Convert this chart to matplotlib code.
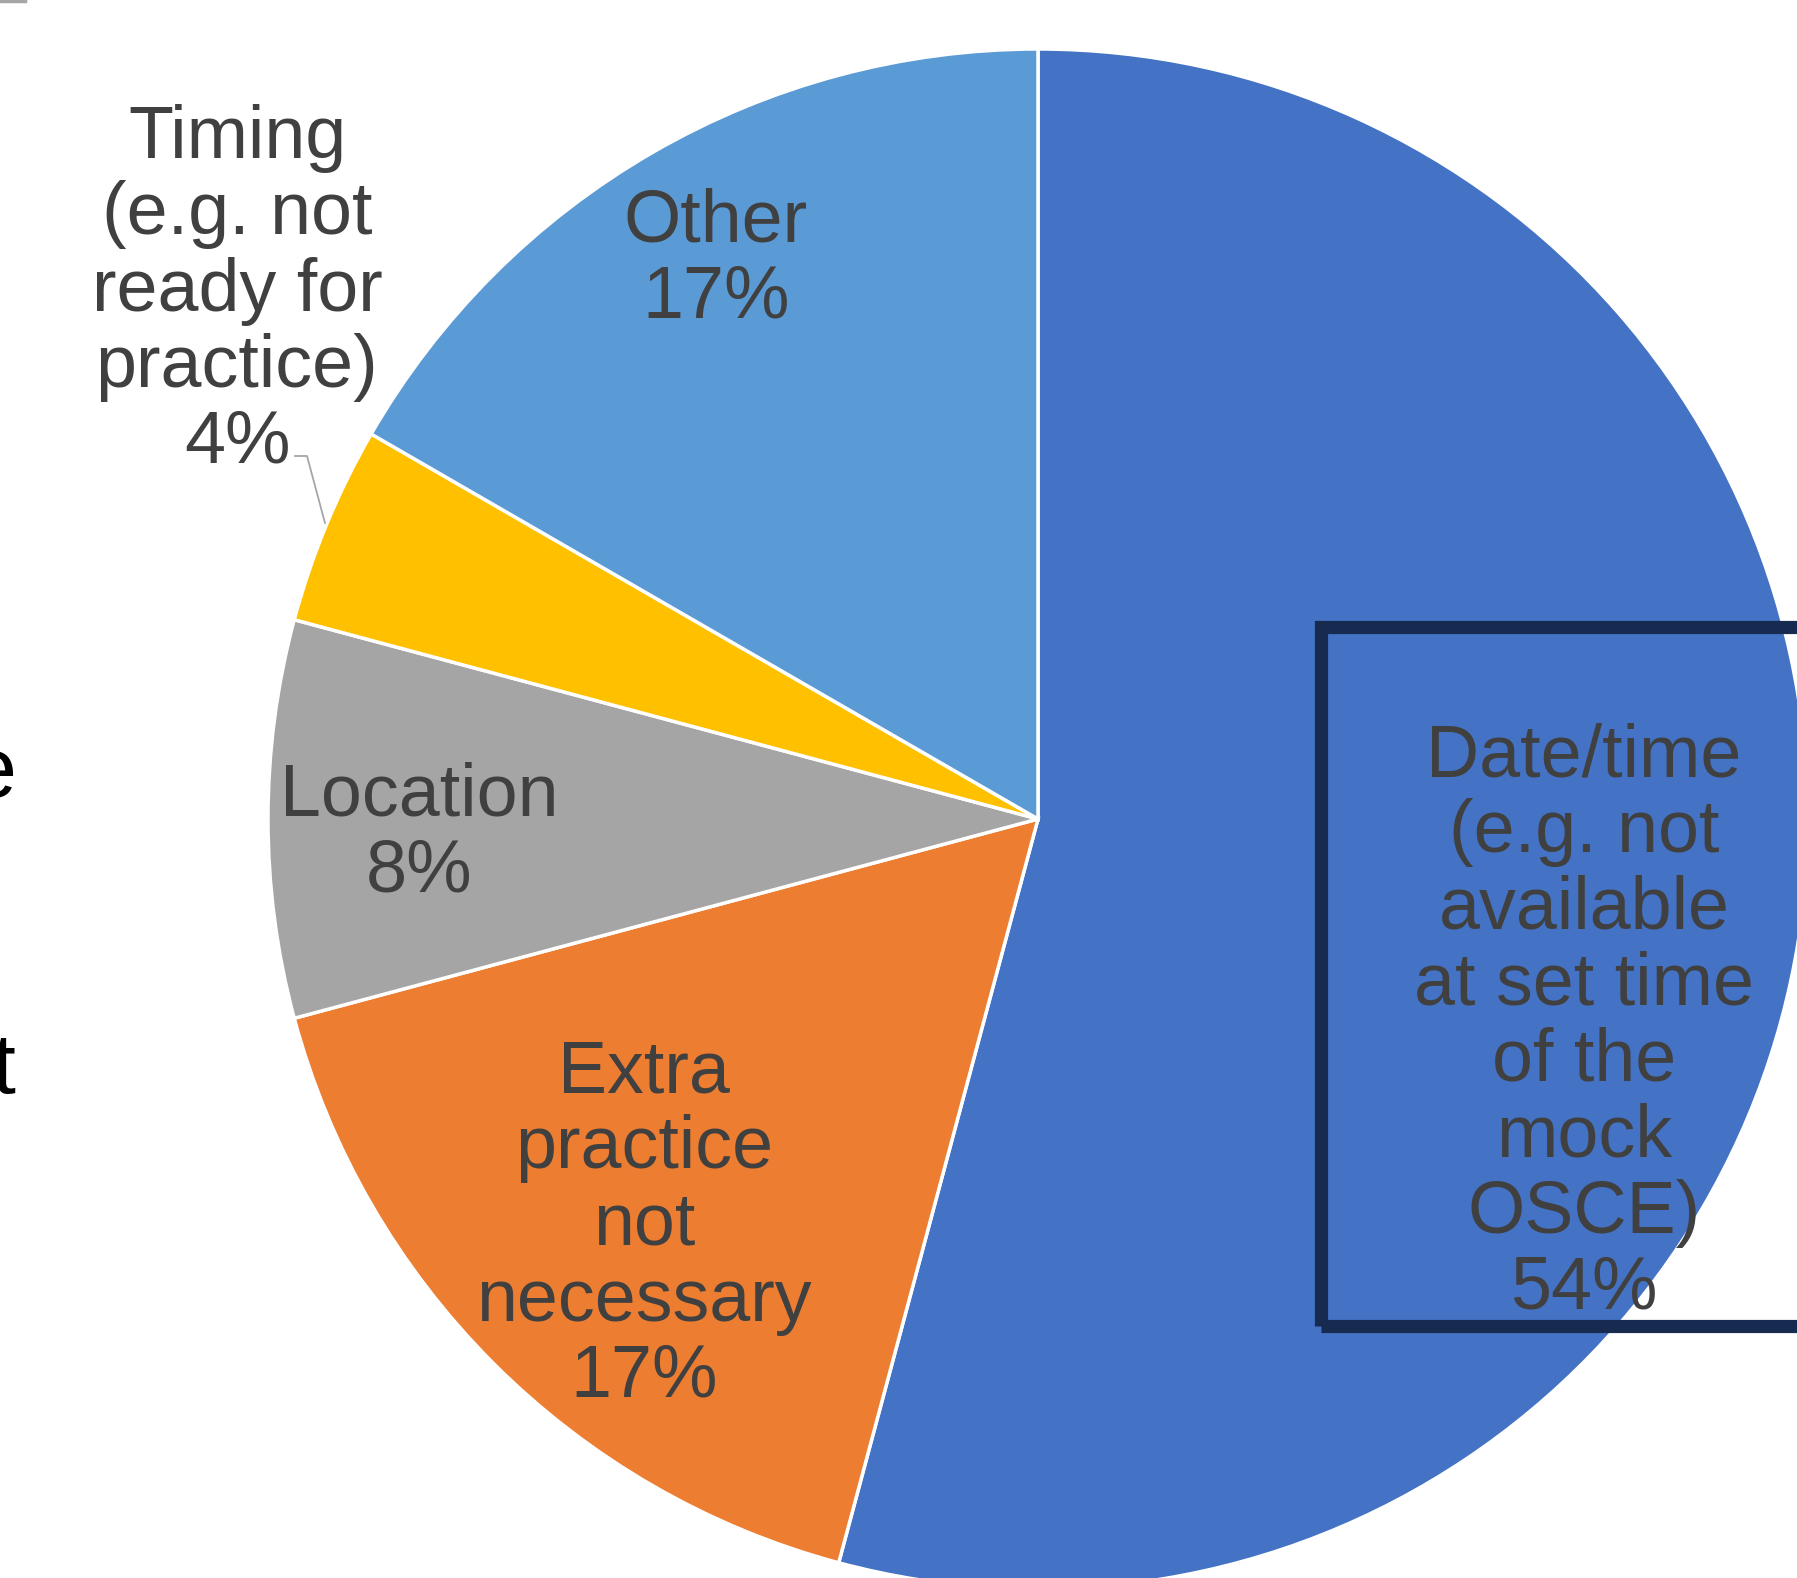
import numpy as np
import matplotlib.pyplot as plt
from matplotlib.patches import Rectangle
from matplotlib.lines import Line2D

plt.rcParams['font.family'] = ['Liberation Sans', 'DejaVu Sans']

## Datos
labels = ['Date/time\n(e.g. not\navailable\nat set time\nof the\nmock\nOSCE)',
          'Extra\npractice\nnot\nnecessary',
          'Location',
          'Timing\n(e.g. not\nready for\npractice)',
          'Other']
counts = [13, 4, 2, 1, 4]
colors = ['#4472C4', '#ED7D31', '#A5A5A5', '#FFC000', '#5B9BD5']

# posiciones de las etiquetas (pixeles, y hacia arriba)
label_pos = [(1584, 555), (644, 353), (419, 744), (237, 1287), (716, 1318)]

W, H = 1797, 1578
fig = plt.figure(figsize=(W / 100, H / 100), dpi=100)
ax = fig.add_axes([0, 0, 1, 1])

wedges, _ = ax.pie(counts, colors=colors, startangle=90, counterclock=False,
                   center=(1038, 759), radius=770,
                   wedgeprops=dict(edgecolor='white', linewidth=2.5))
ax.set_xlim(0, W)
ax.set_ylim(0, H)
ax.set_aspect('equal')
ax.axis('off')

total = sum(counts)
for lab, c, (x, y) in zip(labels, counts, label_pos):
    ax.text(x, y, lab + '\n' + f'{c / total * 100:.0f}%', ha='center', va='center',
            multialignment='center', fontsize=53, color='#404040', linespacing=1.13)

# recuadro del punto seleccionado
ax.add_patch(Rectangle((1321, 252), 700, 699, fill=False, edgecolor='#172B50',
                       linewidth=9.5, clip_on=False))

# linea guia de Timing
ax.plot([295, 307, 325], [1122, 1122, 1055], color='#A6A6A6', linewidth=1.3)

# restos de texto cortado a la izquierda
ax.text(16, 781, 'e', ha='right', va='baseline', fontsize=62, color='black')
ax.text(16, 485, 't', ha='right', va='baseline', fontsize=62, color='black')
ax.plot([0, 25], [1577, 1577], color='#A6A6A6', linewidth=2.5)

plt.savefig('out.png', dpi=100)
